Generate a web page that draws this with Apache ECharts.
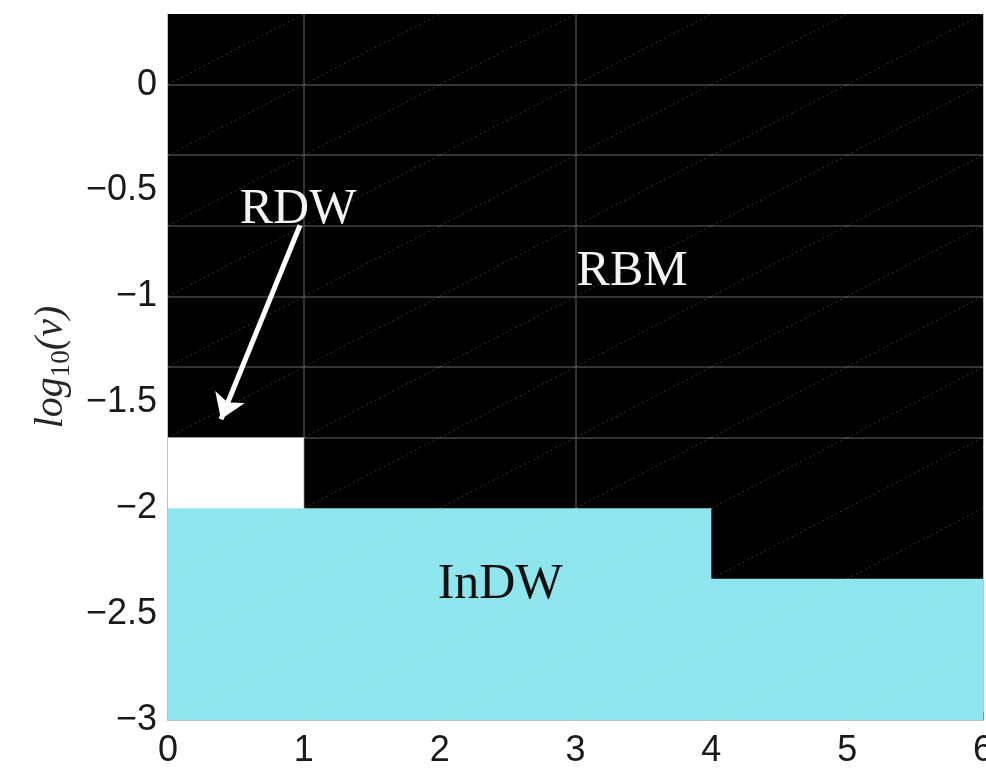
<!DOCTYPE html>
<html>
<head>
<meta charset="utf-8">
<script src="https://cdn.jsdelivr.net/npm/echarts@6/dist/echarts.min.js"></script>
<style>html,body{margin:0;padding:0;background:#fff;}#c{width:986px;height:775px;}</style>
</head>
<body>
<div id="c"></div>
<script>
// ---- data ----
var xTicks = [0, 1, 2, 3, 4, 5, 6];
var yTicks = [-3, -2.5, -2, -1.5, -1, -0.5, 0];
var yMin = -3, yMax = 1 / 3;
// mesh nodes (cell edges of the phase-diagram grid)
var meshX = [0, 1, 2, 3, 4, 5, 6];
var meshY = [-3, -8/3, -7/3, -2, -5/3, -4/3, -1, -2/3, -1/3, 0, 1/3];
// visible mesh lines
var gridLevelsY = [0, -1/3, -2/3, -1, -4/3, -5/3];
var gridLevelsX = [1, 3];
// RDW region (white): upper boundary
var rdwX = [0, 1];
var rdwY = [-5/3, -5/3];
// InDW region (cyan): upper boundary (step)
var indwX = [0, 4, 6];
var indwY = [-2, -7/3, -7/3];
// labels
var regionNames = ['RDW', 'RBM', 'InDW'];
var regionX = [0.957, 3.417, 2.445];
var regionY = [-0.593, -0.882, -2.362];
var regionColors = ['#f4f4f4', '#f4f4f4', '#111111'];
// arrow from RDW label to region
var arrowFrom = [0.972, -0.664];
var arrowTo = [0.39, -1.58];

var chart = echarts.init(document.getElementById('c'), null, {renderer: 'canvas'});

var hatch = [];
for (var i = 0; i < meshX.length - 1; i++) {
  for (var j = 0; j < meshY.length - 1; j++) {
    hatch.push({coords: [[meshX[i], meshY[j]], [meshX[i + 1], meshY[j + 1]]]});
  }
}
var gridLines = [];
gridLevelsY.forEach(function (y) { gridLines.push({coords: [[xTicks[0], y], [xTicks[xTicks.length - 1], y]]}); });
gridLevelsX.forEach(function (x) { gridLines.push({coords: [[x, yMin], [x, yMax]]}); });

var labelData = regionNames.map(function (n, k) {
  return {value: [regionX[k], regionY[k]], name: n,
    label: {show: true, formatter: n, color: regionColors[k], position: 'inside',
      fontFamily: 'Liberation Serif', fontSize: 50, opacity: 1}};
});

var minusFmt = function (v) {
  var s = String(Math.round(v * 100) / 100);
  return s.replace('-', '\u2212');
};
var axisLineStyle = {color: 'rgba(0,0,0,0.32)', width: 1.5};

var option = {
  animation: false,
  grid: {left: 168, right: 3, top: 14, bottom: 55, show: true, backgroundColor: '#000', borderWidth: 0,
    outerBoundsMode: 'none', containLabel: false},
  xAxis: {
    type: 'value', min: 0, max: 6, interval: 1,
    axisLine: {show: true, onZero: false, lineStyle: axisLineStyle},
    axisTick: {show: true, inside: true, length: 8, lineStyle: {color: 'rgba(0,0,0,0.25)'}},
    splitLine: {show: false},
    axisLabel: {color: '#1a1a1a', fontFamily: 'Liberation Sans', fontSize: 36, margin: 13, formatter: minusFmt}
  },
  yAxis: [{
    type: 'value', min: yMin, max: yMax, interval: 0.5,
    axisLine: {show: true, onZero: false, lineStyle: axisLineStyle},
    axisTick: {show: false},
    splitLine: {show: false},
    axisLabel: {color: '#1a1a1a', fontFamily: 'Liberation Sans', fontSize: 36, margin: 11, showMaxLabel: false, formatter: minusFmt},
    name: '{i|log}{s|10}{i|(\u03bd)}',
    nameLocation: 'middle', nameRotate: 90, nameGap: 93,
    nameTextStyle: {
      color: '#262626',
      rich: {
        i: {fontFamily: 'Liberation Serif', fontStyle: 'italic', fontSize: 40, color: '#262626', lineHeight: 48, verticalAlign: 'middle'},
        s: {fontFamily: 'Liberation Serif', fontSize: 27, color: '#262626', lineHeight: 48, verticalAlign: 'bottom', padding: [14, 0, 0, 0]}
      }
    }
  }, {
    type: 'value', min: yMin, max: yMax, interval: 0.5, position: 'right',
    axisLine: {show: true, onZero: false, lineStyle: axisLineStyle},
    axisTick: {show: false}, axisLabel: {show: false}, splitLine: {show: false}
  }],
  series: [
    {
      type: 'lines', coordinateSystem: 'cartesian2d', z: 1, silent: true,
      data: gridLines, symbol: 'none',
      lineStyle: {color: '#454545', width: 1.5, opacity: 1}
    },
    {
      type: 'line', z: 2, silent: true, symbol: 'none',
      data: rdwX.map(function (x, k) { return [x, rdwY[k]]; }),
      lineStyle: {opacity: 0}, areaStyle: {color: '#ffffff', opacity: 1, origin: 'start'}
    },
    {
      type: 'line', z: 3, silent: true, symbol: 'none', step: 'end',
      data: indwX.map(function (x, k) { return [x, indwY[k]]; }),
      lineStyle: {opacity: 0}, areaStyle: {color: '#8fe5ed', opacity: 1, origin: 'start'}
    },
    {
      type: 'lines', coordinateSystem: 'cartesian2d', z: 4, silent: true,
      data: hatch, symbol: 'none',
      lineStyle: {color: '#ffffff', width: 1, type: [2, 3], opacity: 0.22}
    },
    {
      type: 'scatter', z: 6, silent: true, symbolSize: 0,
      itemStyle: {opacity: 1},
      data: labelData
    },
    {
      type: 'lines', coordinateSystem: 'cartesian2d', z: 7, silent: true,
      data: [{coords: [arrowFrom, arrowTo]}],
      symbol: ['none', 'arrow'], symbolSize: [20, 24],
      lineStyle: {color: '#ffffff', width: 5, opacity: 1}
    }
  ]
};
chart.setOption(option);
</script>
</body>
</html>
